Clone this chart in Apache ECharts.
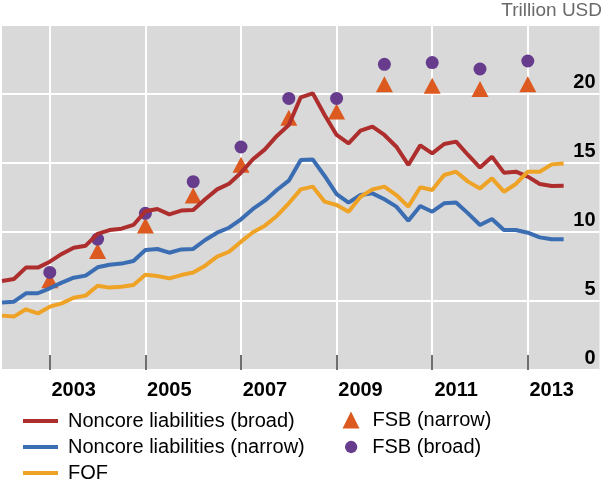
<!DOCTYPE html>
<html>
<head>
<meta charset="utf-8">
<style>
  html, body { margin: 0; padding: 0; background: #fff; }
  #container { width: 604px; height: 484px; }
</style>
<script src="https://cdn.jsdelivr.net/npm/echarts/dist/echarts.min.js"></script>
</head>
<body>
<div id="container"></div>
<script>
// quarterly data, 2002 Q1 .. 2013 Q4
var broad = [6.45, 6.59, 7.42, 7.42, 7.85, 8.41, 8.86, 9.01, 9.86, 10.14, 10.24, 10.51,
    11.5, 11.67, 11.28, 11.55, 11.59, 12.37, 13.09, 13.5, 14.3, 15.27, 15.99, 16.96,
    17.75, 19.76, 20.05, 18.48, 17.03, 16.42, 17.34, 17.64, 17.03, 16.18, 14.86, 16.28,
    15.7, 16.38, 16.55, 15.58, 14.67, 15.46, 14.3, 14.37, 14.01, 13.48, 13.33, 13.36];
var narrow = [4.9, 4.95, 5.56, 5.56, 5.92, 6.33, 6.69, 6.84, 7.44, 7.63, 7.71, 7.9,
    8.7, 8.77, 8.5, 8.74, 8.77, 9.42, 9.95, 10.31, 10.92, 11.67, 12.27, 13.04,
    13.72, 15.22, 15.26, 14.06, 12.75, 12.13, 12.68, 12.8, 12.37, 11.84, 10.82, 11.88,
    11.47, 12.08, 12.13, 11.35, 10.51, 10.94, 10.14, 10.14, 9.95, 9.61, 9.47, 9.47];
var fof = [3.94, 3.87, 4.4, 4.1, 4.59, 4.83, 5.24, 5.39, 6.11, 5.97, 6.04, 6.16,
    6.9, 6.81, 6.64, 6.88, 7.07, 7.56, 8.21, 8.57, 9.3, 9.98, 10.46, 11.16,
    12.08, 13.09, 13.29, 12.2, 11.96, 11.47, 12.56, 13.09, 13.29, 12.68, 11.84, 13.24,
    13.04, 14.13, 14.37, 13.65, 13.16, 13.89, 12.92, 13.48, 14.37, 14.37, 14.9, 14.97];

// annual FSB estimates
var fsbYears = [2003, 2004, 2005, 2006, 2007, 2008, 2009, 2010, 2011, 2012, 2013];
var fsbNarrow = [6.5, 8.62, 10.47, 12.64, 14.88, 18.27, 18.74, 20.7, 20.6, 20.36, 20.7];
var fsbBroad = [7.07, 9.49, 11.35, 13.65, 16.16, 19.68, 19.68, 22.15, 22.28, 21.81, 22.39];

var startYear = 2002;
var yTicks = [0, 5, 10, 15, 20, 25];

// quarter categories, axis runs a little past the data
var quarters = [];
for (var i = 0; i <= 50; i++) {
    quarters.push((startYear + Math.floor(i / 4)) + ' Q' + (i % 4 + 1));
}

function yearPoints(vals) {
    return vals.map(function (v, i) {
        return [(fsbYears[i] - startYear) * 4, v];
    });
}

var font = "'Liberation Sans', Arial, sans-serif";
var legendText = { fontFamily: font, fontSize: 20, color: '#000', lineHeight: 20 };

var dom = document.getElementById('container');
var myChart = echarts.init(dom, null, { renderer: 'canvas' });

var option = {
    animation: false,
    title: {
        text: 'Trillion USD',
        right: 2,
        top: 1,
        padding: 0,
        textStyle: { fontFamily: font, fontSize: 19, fontWeight: 'normal', color: '#6a6a6a' }
    },
    grid: {
        left: 2,
        right: 4.5,
        top: 25,
        bottom: 114,
        show: true,
        backgroundColor: '#d9d9d9',
        borderWidth: 0
    },
    legend: [
        {
            orient: 'vertical',
            left: 23,
            top: 411,
            height: 90,
            padding: 0,
            itemWidth: 35,
            itemHeight: 4,
            itemGap: 6,
            icon: 'rect',
            data: ['Noncore liabilities (broad)', 'Noncore liabilities (narrow)', 'FOF'],
            textStyle: Object.assign({ padding: [0, 0, 0, 5] }, legendText)
        },
        {
            left: 342.5,
            top: 410,
            padding: 0,
            itemWidth: 17,
            itemHeight: 17,
            data: [{ name: 'FSB (narrow)', icon: 'triangle' }],
            textStyle: Object.assign({ padding: [0, 0, 0, 8] }, legendText)
        },
        {
            left: 345,
            top: 437,
            padding: 0,
            itemWidth: 12.3,
            itemHeight: 12.3,
            data: [{ name: 'FSB (broad)', icon: 'circle' }],
            textStyle: Object.assign({ padding: [0, 0, 0, 10] }, legendText)
        }
    ],
    xAxis: {
        type: 'category',
        data: quarters,
        boundaryGap: false,
        axisLine: { show: false },
        axisTick: {
            show: true,
            inside: true,
            length: 15,
            interval: function (idx) { return idx % 8 === 4; },
            lineStyle: { color: '#404040', width: 1.5 }
        },
        axisLabel: {
            interval: function (idx) { return idx % 8 === 6; },
            formatter: function (v) { return v.slice(0, 4); },
            margin: 10,
            fontFamily: font,
            fontSize: 20,
            fontWeight: 'bold',
            color: '#000'
        },
        splitLine: {
            show: true,
            interval: function (idx) { return idx % 8 === 4; },
            lineStyle: { color: '#fff', width: 2 }
        }
    },
    yAxis: {
        type: 'value',
        position: 'right',
        min: yTicks[0],
        max: yTicks[yTicks.length - 1],
        interval: 5,
        axisLine: { show: false },
        axisTick: { show: false },
        axisLabel: {
            inside: true,
            showMaxLabel: false,
            margin: 4,
            verticalAlign: 'bottom',
            padding: [0, 0, 2, 0],
            fontFamily: font,
            fontSize: 20,
            fontWeight: 'bold',
            color: '#000'
        },
        splitLine: { lineStyle: { color: '#fff', width: 2 } }
    },
    series: [
        {
            name: 'FSB (narrow)',
            type: 'scatter',
            symbol: 'triangle',
            symbolSize: [17, 16],
            itemStyle: { color: '#dc5a1f', opacity: 1 },
            data: yearPoints(fsbNarrow),
            z: 2
        },
        {
            name: 'FSB (broad)',
            type: 'scatter',
            symbol: 'circle',
            symbolSize: 13,
            itemStyle: { color: '#683c8d', opacity: 1 },
            data: yearPoints(fsbBroad),
            z: 3
        },
        {
            name: 'Noncore liabilities (broad)',
            type: 'line',
            data: broad,
            showSymbol: false,
            color: '#ae2d2d',
            lineStyle: { width: 4 },
            z: 4
        },
        {
            name: 'Noncore liabilities (narrow)',
            type: 'line',
            data: narrow,
            showSymbol: false,
            color: '#3b6db3',
            lineStyle: { width: 4 },
            z: 4
        },
        {
            name: 'FOF',
            type: 'line',
            data: fof,
            showSymbol: false,
            color: '#efa326',
            lineStyle: { width: 4 },
            z: 4
        }
    ]
};
myChart.setOption(option, true);
</script>
</body>
</html>
